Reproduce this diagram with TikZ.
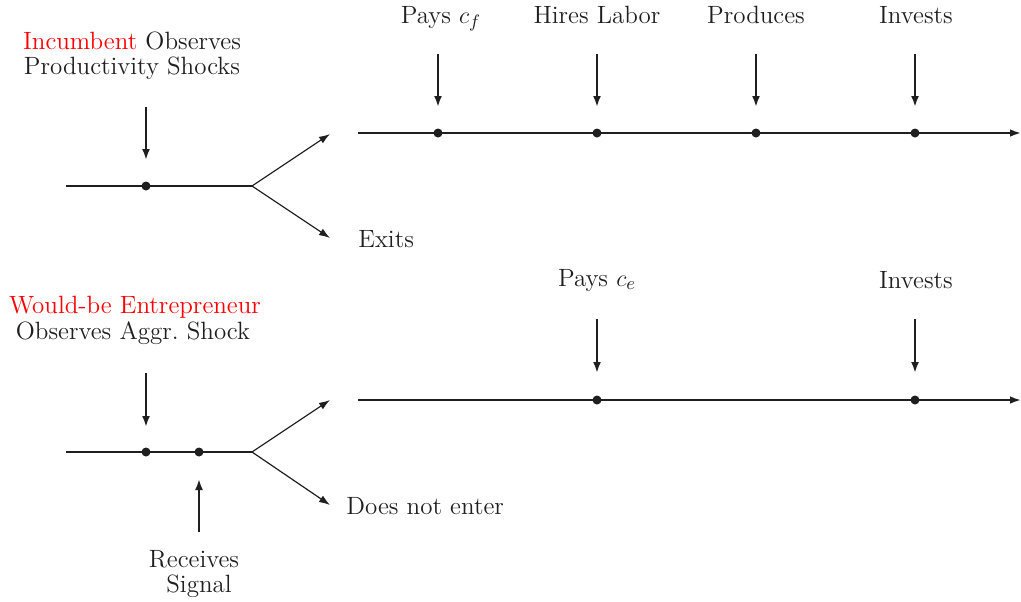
\documentclass[tikz,border=0pt]{standalone}
\usetikzlibrary{arrows.meta}
\definecolor{ink}{gray}{0.12}
\begin{document}
\begin{tikzpicture}[x=0.5pt,y=-0.5pt,
  font=\fontsize{12.5}{12}\selectfont,
  every node/.style={text=ink, inner sep=0pt},
  lbl/.style={anchor=base},
  lblw/.style={anchor=base west},
  main/.style={draw=ink, line width=0.9pt},
  branch/.style={draw=ink, line width=0.6pt, -{Latex[length=5.5pt,width=3.8pt]}},
  tl/.style={draw=ink, line width=0.9pt, -{Latex[length=5.5pt,width=3.8pt]}},
  vtip/.style={draw=ink, line width=1.2pt, -{Latex[length=5.5pt,width=4pt]}},
  dot/.style={circle, fill=ink, minimum size=4.5pt, inner sep=0pt}]
\useasboundingbox (0,0) rectangle (1021,601);

% ---------- Incumbent ----------
\node[lbl] (inc1) at (132,49) {\textcolor{red}{Incumbent} Observes};
\node[lbl] (inc2) at (132,74) {Productivity Shocks};
\coordinate (iL) at (66,186);
\coordinate (iB) at (252,186);
\node[dot] (iD) at (146,186) {};
\draw[main] (iL) -- (iB);
\coordinate (iA0) at (146,107);
\coordinate (iA1) at (146,160);
\draw[vtip] (iA0) -- (iA1);
\coordinate (iUp) at (330,134);
\coordinate (iDn) at (330,238);
\draw[branch] (iB) -- (iUp);
\draw[branch] (iB) -- (iDn);
\node[lblw] (exits) at (358,247) {Exits};

% top timeline
\coordinate (tS) at (358,133);
\coordinate (tE) at (1021,133);
\draw[tl] (tS) -- (tE);
\foreach \x/\n in {438/a, 597/b, 756/c, 915/d}{
  \node[dot] (t\n) at (\x,133) {};
  \coordinate (t\n0) at (\x,54);
  \coordinate (t\n1) at (\x,107);
  \draw[vtip] (t\n0) -- (t\n1);
}
\node[lbl] (lpf) at (441,23) {Pays $c_f$};
\node[lbl] (lhl) at (597,23) {Hires Labor};
\node[lbl] (lpr) at (756,23) {Produces};
\node[lbl] (lin) at (916,23) {Invests};

% ---------- Entrant ----------
\node[lbl] (ent1) at (135,313) {\textcolor{red}{Would-be Entrepreneur}};
\node[lbl] (ent2) at (133,339) {Observes Aggr.\ Shock};
\coordinate (eL) at (66,452);
\coordinate (eB) at (252,452);
\draw[main] (eL) -- (eB);
\node[dot] (eD1) at (146,452) {};
\node[dot] (eD2) at (199,452) {};
\coordinate (eA0) at (146,373);
\coordinate (eA1) at (146,427);
\draw[vtip] (eA0) -- (eA1);
\coordinate (eS0) at (199,532);
\coordinate (eS1) at (199,479);
\draw[vtip] (eS0) -- (eS1);
\node[lbl] (rec1) at (194,567) {Receives};
\node[lbl] (rec2) at (199,592) {Signal};
\coordinate (eUp) at (330,400);
\coordinate (eDn) at (330,505);
\draw[branch] (eB) -- (eUp);
\draw[branch] (eB) -- (eDn);
\node[lblw] (dne) at (346,514) {Does not enter};

% bottom timeline
\coordinate (bS) at (358,400);
\coordinate (bE) at (1021,400);
\draw[tl] (bS) -- (bE);
\node[dot] (ba) at (597,400) {};
\node[dot] (bb) at (915,400) {};
\coordinate (ba0) at (597,319);
\coordinate (ba1) at (597,373);
\draw[vtip] (ba0) -- (ba1);
\coordinate (bb0) at (915,319);
\coordinate (bb1) at (915,373);
\draw[vtip] (bb0) -- (bb1);
\node[lbl] (lpe) at (597,286) {Pays $c_e$};
\node[lbl] (lin2) at (916,288) {Invests};
\end{tikzpicture}
\end{document}
